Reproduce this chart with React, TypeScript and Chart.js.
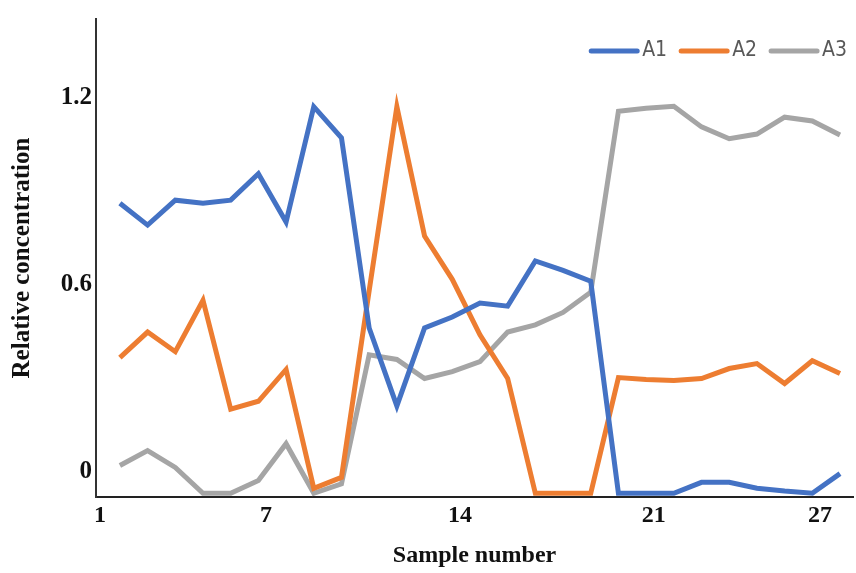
import React, { useEffect, useRef } from "react";
import { Chart, registerables } from "chart.js";

Chart.register(...registerables);

// ---- data ----
const samples = [1, 2, 3, 4, 5, 6, 7, 8, 9, 10, 11, 12, 13, 14, 15, 16, 17, 18, 19, 20, 21, 22, 23, 24, 25, 26, 27];
const seriesNames = ["A1", "A2", "A3"];
const a1 = [0.93, 0.86, 0.94, 0.93, 0.94, 1.025, 0.87, 1.24, 1.14, 0.53, 0.28, 0.53, 0.565, 0.61, 0.6, 0.745, 0.715, 0.68, 0, 0, 0, 0.035, 0.035, 0.016, 0.007, 0, 0.063];
const a2 = [0.435, 0.517, 0.454, 0.619, 0.27, 0.295, 0.397, 0.016, 0.051, 0.65, 1.24, 0.825, 0.686, 0.508, 0.368, 0, 0, 0, 0.371, 0.365, 0.362, 0.368, 0.4, 0.416, 0.352, 0.425, 0.384];
const a3 = [0.089, 0.137, 0.083, 0, 0, 0.041, 0.159, 0, 0.03, 0.444, 0.429, 0.368, 0.39, 0.422, 0.517, 0.54, 0.58, 0.645, 1.225, 1.235, 1.241, 1.175, 1.137, 1.152, 1.206, 1.194, 1.149];
const xTickValues = [1, 7, 14, 21, 27];
const yTickValues = [0, 0.6, 1.2];
const seriesColors = ["#4472C4", "#ED7D31", "#A5A5A5"];
const xTitle = "Sample number";
const yTitle = "Relative concentration";

const serifBold = { family: '"Liberation Serif", "Times New Roman", serif', weight: "bold" as const };

const inlineLegend = {
  id: "inlineLegend",
  afterDraw(chart: any) {
    const ctx = chart.ctx as CanvasRenderingContext2D;
    const area = chart.chartArea;
    ctx.save();
    ctx.font = '21px "Liberation Sans Narrow", "DejaVu Sans Condensed", "Liberation Sans", sans-serif';
    ctx.textBaseline = "middle";
    ctx.textAlign = "left";
    const y = area.top + 32;
    let end = area.right - 6;
    const sets = chart.data.datasets;
    for (let i = sets.length - 1; i >= 0; i--) {
      const label = sets[i].label as string;
      const w = ctx.measureText(label).width;
      const tx = end - w;
      ctx.fillStyle = "#595959";
      ctx.fillText(label, tx, y);
      ctx.strokeStyle = sets[i].borderColor;
      ctx.lineWidth = 5;
      ctx.lineCap = "round";
      ctx.beginPath();
      ctx.moveTo(tx - 5 - 46, y);
      ctx.lineTo(tx - 5, y);
      ctx.stroke();
      end = tx - 5 - 46 - 14;
    }
    ctx.restore();
  },
};

export default function App() {
  const canvasRef = useRef<HTMLCanvasElement | null>(null);

  useEffect(() => {
    if (!canvasRef.current) return;
    const series = [a1, a2, a3];
    const chart = new Chart(canvasRef.current, {
      type: "line",
      data: {
        datasets: series.map((vals, i) => ({
          label: seriesNames[i],
          data: samples.map((s, j) => ({ x: s, y: vals[j] })),
          borderColor: seriesColors[i],
          backgroundColor: seriesColors[i],
          borderWidth: 5,
          pointRadius: 0,
          tension: 0,
          fill: false,
        })),
      },
      options: {
        animation: false,
        responsive: true,
        maintainAspectRatio: false,
        layout: { padding: { top: 14, right: 0, left: 0, bottom: 0 } },
        plugins: {
          legend: { display: false },
          tooltip: { enabled: false },
        },
        scales: {
          x: {
            type: "linear",
            min: 0.137,
            max: 27.47,
            afterBuildTicks: (axis: any) => {
              axis.ticks = xTickValues.map((v) => ({ value: v }));
            },
            afterFit: (scale: any) => {
              scale.height = 76;
            },
            grid: { display: false, drawTicks: false },
            border: { display: true, color: "#222222", width: 2 },
            ticks: {
              autoSkip: false,
              maxRotation: 0,
              padding: 4,
              labelOffset: -20,
              color: "#111111",
              font: { ...serifBold, size: 24 },
              callback: (v: any) => String(v),
            },
            title: {
              display: true,
              text: xTitle,
              color: "#111111",
              font: { ...serifBold, size: 24 },
              padding: { top: 0, bottom: 3 },
            },
          },
          y: {
            type: "linear",
            min: -0.012,
            max: 1.521,
            afterBuildTicks: (axis: any) => {
              axis.ticks = yTickValues.map((v) => ({ value: v }));
            },
            afterFit: (scale: any) => {
              scale.width = 96;
            },
            grid: { display: false, drawTicks: false },
            border: { display: true, color: "#333333", width: 2 },
            ticks: {
              padding: 4,
              labelOffset: -22,
              color: "#111111",
              font: { ...serifBold, size: 25 },
              callback: (v: any) => String(v),
            },
            title: {
              display: true,
              text: yTitle,
              color: "#111111",
              font: { ...serifBold, size: 25 },
              padding: { top: 8, bottom: 0 },
            },
          },
        },
      },
      plugins: [inlineLegend],
    });
    return () => chart.destroy();
  }, []);

  return (
    <div style={{ position: "absolute", left: 0, top: 0, width: 856, height: 573, background: "#ffffff" }}>
      <canvas ref={canvasRef} />
    </div>
  );
}
